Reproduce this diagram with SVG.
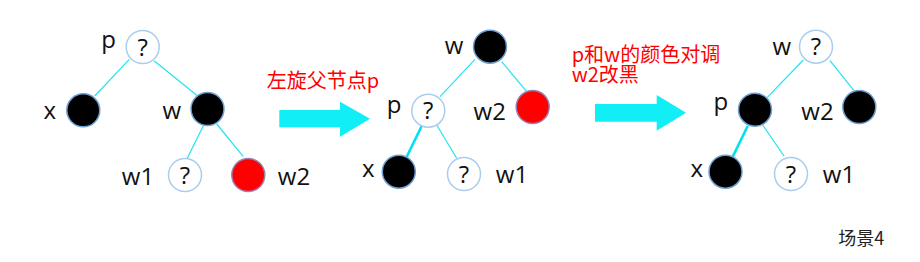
<svg xmlns="http://www.w3.org/2000/svg" width="920" height="262" viewBox="0 0 920 262">
<style>
.lbl{font-family:"Open Sans","Noto Sans",sans-serif;font-size:24px;fill:#111;text-anchor:middle}
.q{font-family:"Open Sans","Noto Sans",sans-serif;font-size:24px;fill:#111;text-anchor:middle}
.red{font-family:"Noto Sans CJK SC","Noto Sans",sans-serif;font-size:20px;fill:#ff0000}
.cap{font-family:"Noto Sans CJK SC","Noto Sans",sans-serif;font-size:18px;fill:#222}
.blk{fill:#000;stroke:#6f9fd3;stroke-width:1.5}
.unk{fill:#fff;stroke:#a9cdef;stroke-width:1.5}
.rd{fill:#ff0000;stroke:#9c80b4;stroke-width:1.5}
.ln{stroke:#22e4f0;stroke-width:1.2;fill:none}
.lnb{stroke:#00e0ee;stroke-width:2.6;fill:none}
.arr{fill:#11eef5}
</style>
<rect width="920" height="262" fill="#fff"/>
<g id="connectors">
<line class="ln" x1="129.3" y1="59.3" x2="94.7" y2="96"/>
<line class="ln" x1="154" y1="60.7" x2="197.7" y2="96"/>
<line class="ln" x1="203.3" y1="126" x2="186.7" y2="159.3"/>
<line class="ln" x1="216.7" y1="124" x2="243.3" y2="156.7"/>
<line class="ln" x1="475" y1="59.3" x2="440" y2="96.7"/>
<line class="ln" x1="501.7" y1="61.7" x2="526.7" y2="91.7"/>
<line class="lnb" x1="421.7" y1="126" x2="406.7" y2="156.7"/>
<line class="ln" x1="436.7" y1="125" x2="456.7" y2="158.3"/>
<line class="ln" x1="803.3" y1="60" x2="767.3" y2="97.3"/>
<line class="ln" x1="830" y1="60.7" x2="854" y2="90.7"/>
<line class="lnb" x1="747.7" y1="126" x2="732.7" y2="156.7"/>
<line class="ln" x1="762.7" y1="125" x2="784" y2="156"/>
</g>
<g id="arrow1"><polygon class="arr" points="279.3,110 340,110 340,101.7 370,118.7 340,136.7 340,127.3 279.3,127.3"/></g>
<g id="arrow2"><polygon class="arr" points="595,104 656.7,104 656.7,95 686,112.7 656.7,130.7 656.7,121.7 595,121.7"/></g>
<g id="t1-p"><circle class="unk" cx="142.7" cy="47" r="16.5"/><text class="q" x="142.7" y="55.5">?</text><text class="lbl" x="108.5" y="48">p</text></g>
<g id="t1-x"><circle class="blk" cx="83.3" cy="110.3" r="16.5"/><text class="lbl" x="49.7" y="118.5">x</text></g>
<g id="t1-w"><circle class="blk" cx="207.5" cy="109" r="16.5"/><text class="lbl" x="171.7" y="119">w</text></g>
<g id="t1-w1"><circle class="unk" cx="185" cy="175" r="16.5"/><text class="q" x="185" y="183.5">?</text><text class="lbl" x="138" y="185">w1</text></g>
<g id="t1-w2"><circle class="rd" cx="248.3" cy="175" r="16.5"/><text class="lbl" x="294" y="185">w2</text></g>
<g id="t2-w"><circle class="blk" cx="490" cy="46.7" r="16.5"/><text class="lbl" x="454" y="53.5">w</text></g>
<g id="t2-p"><circle class="unk" cx="428.3" cy="110.7" r="16.5"/><text class="q" x="428.3" y="119.2">?</text><text class="lbl" x="394" y="112.5">p</text></g>
<g id="t2-w2"><circle class="rd" cx="532.7" cy="107" r="16.5"/><text class="lbl" x="489.7" y="120">w2</text></g>
<g id="t2-x"><circle class="blk" cx="398.8" cy="171.7" r="16.5"/><text class="lbl" x="368.3" y="176.7">x</text></g>
<g id="t2-w1"><circle class="unk" cx="464" cy="174" r="16.5"/><text class="q" x="464" y="182.5">?</text><text class="lbl" x="512" y="183.3">w1</text></g>
<g id="t3-w"><circle class="unk" cx="816" cy="46.7" r="16.5"/><text class="q" x="816" y="55.2">?</text><text class="lbl" x="781.7" y="55">w</text></g>
<g id="t3-p"><circle class="blk" cx="755" cy="109.7" r="16.5"/><text class="lbl" x="720.8" y="110">p</text></g>
<g id="t3-w2"><circle class="blk" cx="859.3" cy="107" r="16.5"/><text class="lbl" x="817.5" y="120">w2</text></g>
<g id="t3-x"><circle class="blk" cx="725.5" cy="171.7" r="16.5"/><text class="lbl" x="696.7" y="176.7">x</text></g>
<g id="t3-w1"><circle class="unk" cx="791" cy="174" r="16.5"/><text class="q" x="791" y="182.5">?</text><text class="lbl" x="839" y="183.3">w1</text></g>
<g id="label1"><text class="red" x="266.7" y="88">左旋父节点p</text></g>
<g id="label2"><text class="red" x="571.7" y="61.5">p和w的颜色对调</text><text class="red" x="571.7" y="81.5">w2改黑</text></g>
<g id="caption"><text class="cap" x="838.3" y="245">场景4</text></g>
</svg>
